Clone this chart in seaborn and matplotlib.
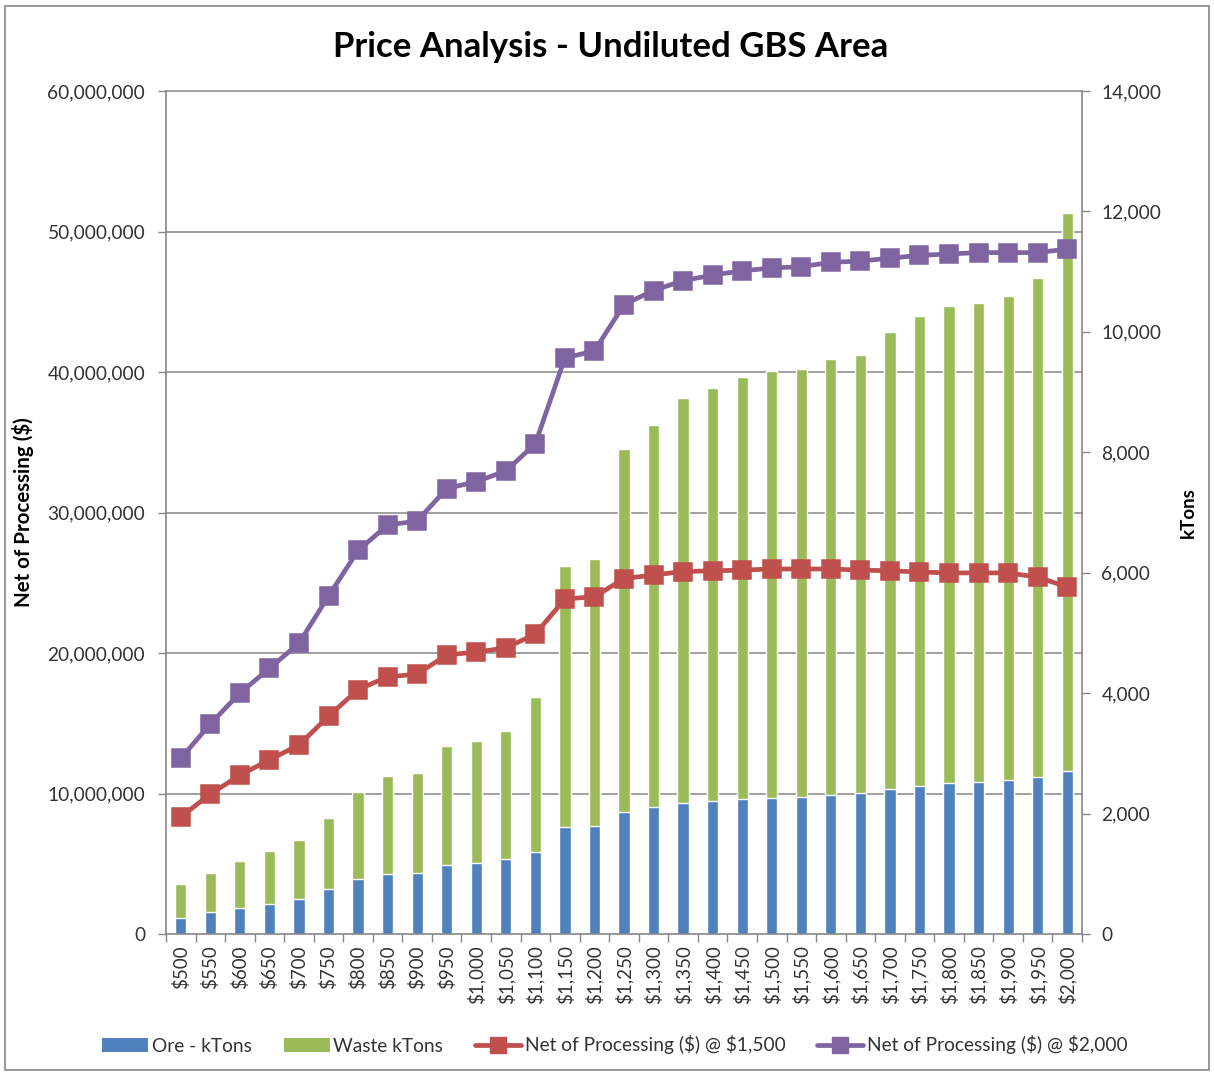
import numpy as np
import pandas as pd
import matplotlib
matplotlib.use("Agg")
import matplotlib.pyplot as plt
import seaborn as sns
from matplotlib.patches import Rectangle, Patch
from matplotlib.lines import Line2D
from matplotlib.ticker import FuncFormatter

# Gold price scenarios ($/oz)
prices = [500, 550, 600, 650, 700, 750, 800, 850, 900, 950,
          1000, 1050, 1100, 1150, 1200, 1250, 1300, 1350, 1400, 1450,
          1500, 1550, 1600, 1650, 1700, 1750, 1800, 1850, 1900, 1950, 2000]
price_labels = [f"${p:,}" for p in prices]

# Tonnage inside each pit shell (kTons)
ore_kt = [266, 365, 432, 498, 581, 740, 914, 997, 1013, 1146,
          1179, 1240, 1355, 1777, 1800, 2027, 2110, 2176, 2209, 2243,
          2259, 2276, 2309, 2342, 2409, 2458, 2508, 2525, 2558, 2608, 2708]
waste_kt = [564, 640, 781, 881, 985, 1187, 1436, 1628, 1653, 1977,
            2027, 2125, 2575, 4336, 4429, 6029, 6345, 6728, 6861, 7010,
            7093, 7109, 7242, 7276, 7591, 7808, 7924, 7957, 8040, 8289, 9269]

# Net of processing ($) at two selling prices
net_1500 = [8.33e6, 9.96e6, 11.3e6, 12.4e6, 13.45e6, 15.5e6, 17.4e6, 18.3e6, 18.5e6, 19.86e6,
            20.07e6, 20.36e6, 21.35e6, 23.85e6, 24.0e6, 25.3e6, 25.55e6, 25.8e6, 25.85e6, 25.9e6,
            25.98e6, 25.98e6, 25.98e6, 25.9e6, 25.85e6, 25.77e6, 25.7e6, 25.7e6, 25.7e6, 25.4e6, 24.7e6]
net_2000 = [12.5e6, 14.95e6, 17.15e6, 18.9e6, 20.7e6, 24.05e6, 27.3e6, 29.1e6, 29.4e6, 31.7e6,
            32.2e6, 32.95e6, 34.9e6, 41.0e6, 41.5e6, 44.8e6, 45.8e6, 46.5e6, 46.9e6, 47.2e6,
            47.4e6, 47.5e6, 47.8e6, 47.9e6, 48.1e6, 48.3e6, 48.4e6, 48.5e6, 48.5e6, 48.5e6, 48.75e6]

left_ticks = [0, 10e6, 20e6, 30e6, 40e6, 50e6, 60e6]
right_ticks = [0, 2000, 4000, 6000, 8000, 10000, 12000, 14000]

BLUE, GREEN, RED, PURPLE = "#4F81BD", "#9BBB59", "#C0504D", "#8064A2"
AXIS_GRAY = "#868686"
TEXT = "#333333"

sns.set_theme(style="white")
plt.rcParams["font.family"] = ["Lato", "DejaVu Sans"]
plt.rcParams["text.parse_math"] = False

fig = plt.figure(figsize=(12.14, 10.74), dpi=100)
ax = fig.add_axes([166 / 1214, 1 - 934 / 1074, (1082 - 166) / 1214, (934 - 91) / 1074])
ax2 = ax.twinx()

df = pd.DataFrame({"price": price_labels, "ore": ore_kt, "waste": waste_kt,
                   "n1500": net_1500, "n2000": net_2000})
df["total"] = df["ore"] + df["waste"]

# stacked columns on the kTons axis: total (waste on top) then ore over it
sns.barplot(data=df, x="price", y="total", color=GREEN, saturation=1, width=0.38,
            ax=ax2, zorder=2)
sns.barplot(data=df, x="price", y="ore", color=BLUE, saturation=1, width=0.38,
            ax=ax2, zorder=3)

# net-of-processing lines on the $ axis
for col, c in [("n1500", RED), ("n2000", PURPLE)]:
    sns.pointplot(data=df, x="price", y=col, color=c, markers="s", markersize=12,
                  linewidth=3.4, errorbar=None, ax=ax)

ax.set_zorder(3)
ax2.set_zorder(1)
ax.patch.set_visible(False)

n = len(prices)
ax.set_xlim(-0.5, n - 0.5)
ax.set_ylim(left_ticks[0], left_ticks[-1])
ax2.set_ylim(right_ticks[0], right_ticks[-1])

# horizontal gridlines for the $ axis, drawn beneath the columns
scale = right_ticks[-1] / left_ticks[-1]
for v in left_ticks[1:]:
    ax2.axhline(v * scale, color=AXIS_GRAY, lw=1.1, zorder=0.5, clip_on=False)

ax.set_yticks(left_ticks)
ax.yaxis.set_major_formatter(FuncFormatter(lambda v, p: f"{int(v):,}"))
ax2.set_yticks(right_ticks)
ax2.yaxis.set_major_formatter(FuncFormatter(lambda v, p: f"{int(v):,}"))

ax.set_xticks(range(n))
ax.set_xticklabels(price_labels, rotation=90)
ax.set_xticks(np.arange(-0.5, n, 1.0), minor=True)
ax.tick_params(axis="x", which="major", length=0, pad=8, labelsize=13.5, labelcolor=TEXT)
ax.tick_params(axis="x", which="minor", length=6, width=1, color=AXIS_GRAY, direction="out", bottom=True)
ax.tick_params(axis="y", which="major", length=6, width=1, color=AXIS_GRAY, direction="out",
               left=True, labelsize=13.8, labelcolor=TEXT, pad=9)
ax2.tick_params(axis="y", which="major", length=6, width=1, color=AXIS_GRAY, direction="out",
                right=True, labelsize=13.8, labelcolor=TEXT, pad=8)

for s in ["top", "right"]:
    ax.spines[s].set_visible(False)
for s in ["left", "bottom"]:
    ax.spines[s].set_color(AXIS_GRAY)
    ax.spines[s].set_linewidth(1.2)
for s in ["top", "left", "bottom"]:
    ax2.spines[s].set_visible(False)
ax2.spines["right"].set_color(AXIS_GRAY)
ax2.spines["right"].set_linewidth(1.2)

ax.grid(False)
ax2.grid(False)
ax.set_xlabel("")
ax2.set_xlabel("")
ax.set_ylabel("Net of Processing ($)", fontsize=14.8, fontweight="bold", color="black")
ax.yaxis.set_label_coords((34 - 166) / 916, 0.5)
ax2.set_ylabel("kTons", fontsize=13.5, fontweight="bold", color="black")
ax2.yaxis.set_label_coords((1180 - 166) / 916, 0.5)

fig.text(611 / 1214, 1 - 47 / 1074, "Price Analysis - Undiluted GBS Area",
         ha="center", va="center", fontsize=25, fontweight="bold", color="black")

handles = [
    Patch(facecolor=BLUE, edgecolor="none"),
    Patch(facecolor=GREEN, edgecolor="none"),
    Line2D([], [], color=RED, lw=3.4, marker="s", markersize=12),
    Line2D([], [], color=PURPLE, lw=3.4, marker="s", markersize=12),
]
labels = ["Ore - kTons", "Waste kTons", "Net of Processing ($) @ $1,500",
          "Net of Processing ($) @ $2,000"]
leg = fig.legend(handles, labels, loc="center", bbox_to_anchor=(615 / 1214, 1 - 1045 / 1074),
                 ncol=4, frameon=False, fontsize=13.8, handlelength=2.4, handleheight=0.7,
                 handletextpad=0.2, columnspacing=1.65)
for t in leg.get_texts():
    t.set_color(TEXT)

fig.add_artist(Rectangle((5 / 1214, 1 - 1070 / 1074), (1209 - 5) / 1214, (1070 - 6) / 1074,
                         transform=fig.transFigure, fill=False, edgecolor=AXIS_GRAY, lw=1.2))

fig.savefig("out.png", dpi=100, facecolor="white")
